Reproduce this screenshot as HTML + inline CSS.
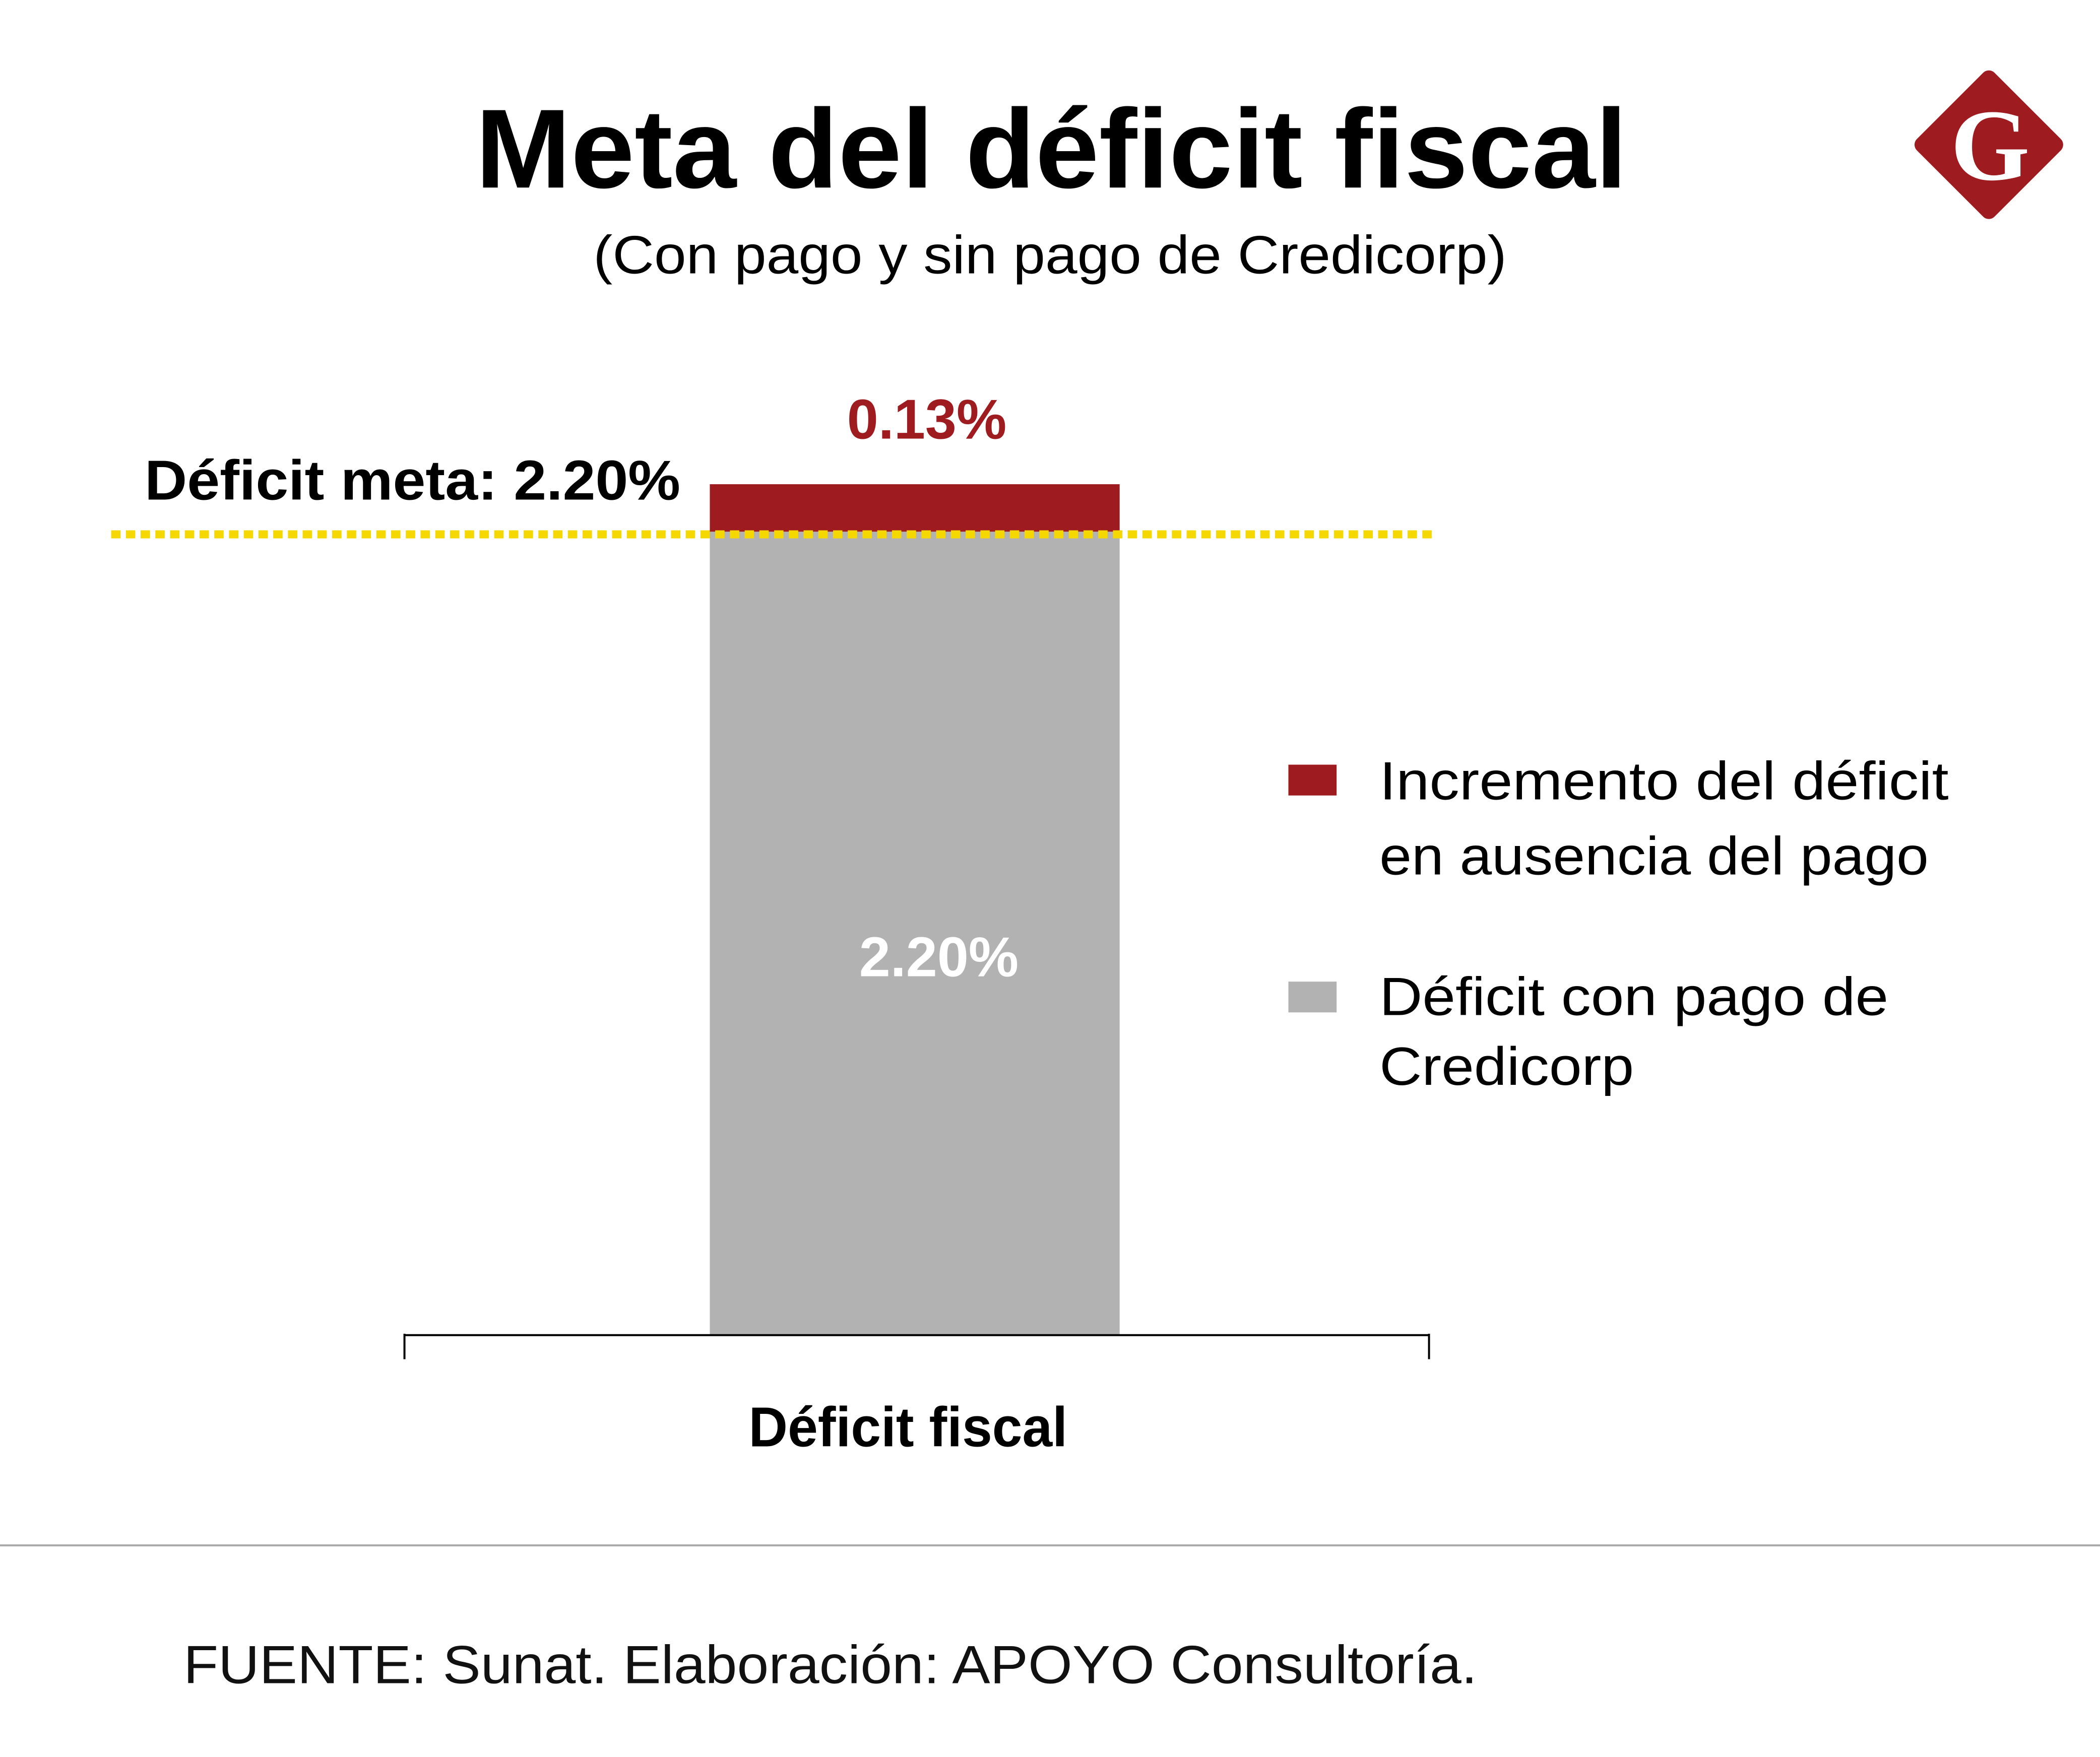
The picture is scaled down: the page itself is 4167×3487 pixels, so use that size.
<!DOCTYPE html>
<html><head><meta charset="utf-8">
<style>
html,body{margin:0;padding:0;background:#fff;}
svg{display:block;}
text{font-family:"Liberation Sans",sans-serif;}
</style></head>
<body>
<svg id="chart" width="4167" height="3487" viewBox="0 0 1568 1312" xmlns="http://www.w3.org/2000/svg">
  <rect width="1568" height="1312" fill="#fff"/>
  <text x="785" y="140" text-anchor="middle" font-size="84" font-weight="bold" textLength="860" lengthAdjust="spacingAndGlyphs" fill="#000">Meta del déficit fiscal</text>
  <text x="784" y="204" text-anchor="middle" font-size="40" textLength="682" lengthAdjust="spacingAndGlyphs" fill="#000">(Con pago y sin pago de Credicorp)</text>
  <g>
    <rect x="1444" y="67" width="82" height="82" rx="6" transform="rotate(45 1485 108)" fill="#9e1b20"/>
    <text x="1486" y="134" text-anchor="middle" style="font-family:'Liberation Serif',serif;font-weight:bold" font-size="76" fill="#fff">G</text>
  </g>
  <g id="plot"></g>
  <line x1="302" y1="997" x2="1067" y2="997" stroke="#000" stroke-width="1.5"/>
  <line x1="302" y1="996" x2="302" y2="1015" stroke="#000" stroke-width="1.5"/>
  <line x1="1067" y1="996" x2="1067" y2="1015" stroke="#000" stroke-width="1.5"/>
  <g>
    <rect x="962" y="571" width="36" height="23" fill="#9e1b20"/>
    <text x="1030" y="597" font-size="40" textLength="425" lengthAdjust="spacingAndGlyphs">Incremento del déficit</text>
    <text x="1030" y="653" font-size="40" textLength="410" lengthAdjust="spacingAndGlyphs">en ausencia del pago</text>
    <rect x="962" y="733" width="36" height="23" fill="#b3b2b3"/>
    <text x="1030" y="758" font-size="40" textLength="380" lengthAdjust="spacingAndGlyphs">Déficit  con pago de</text>
    <text x="1030" y="810" font-size="40" textLength="190" lengthAdjust="spacingAndGlyphs">Credicorp</text>
  </g>
  <line x1="0" y1="1154" x2="1568" y2="1154" stroke="#aaa" stroke-width="1.5"/>
  <text x="137" y="1257" font-size="40" textLength="966" lengthAdjust="spacingAndGlyphs" fill="#111">FUENTE: Sunat. Elaboración: APOYO Consultoría.</text>
</svg>
<script>
const categories = ["Déficit fiscal"];
const baseValues = [2.20];
const incrementValues = [0.13];
const targetValues = [2.20];
const baseLabels = ["2.20%"];
const incrementLabels = ["0.13%"];
const targetLabels = ["Déficit meta: 2.20%"];

const NS = "http://www.w3.org/2000/svg";
const plot = document.getElementById("plot");
const y0 = 997, pxPerUnit = 600 / 2.20;
function yScale(v){ return y0 - v * pxPerUnit; }
function xCenter(i){ return 683 + i * 300; }
const barW = 306;
function mk(tag, attrs){ const e = document.createElementNS(NS, tag); for (const k in attrs) e.setAttribute(k, attrs[k]); plot.appendChild(e); return e; }

categories.forEach((c, i) => {
  const cx = xCenter(i);
  const base = mk("rect", {x: cx - barW/2, y: yScale(baseValues[i]), width: barW, height: y0 - yScale(baseValues[i]), fill: "#b3b2b3"});
  
  
  const top = yScale(baseValues[i] + incrementValues[i]);
  const inc = mk("rect", {x: cx - barW/2, y: top, width: barW, height: yScale(baseValues[i]) - top, fill: "#9e1b20"});
  
  
  const bl = mk("text", {x: cx + 18, y: (yScale(baseValues[i]) + y0)/2 + 32, "text-anchor": "middle", "font-size": "42", "font-weight": "bold", fill: "#fff"});
  bl.textContent = baseLabels[i];
  
  
  const il = mk("text", {x: cx + 9, y: top - 34, "text-anchor": "middle", "font-size": "42", "font-weight": "bold", fill: "#9e1b20"});
  il.textContent = incrementLabels[i];
  
  
  const cl = mk("text", {x: cx - 5, y: 1080, "text-anchor": "middle", "font-size": "42", "font-weight": "bold", fill: "#000", textLength: "238", lengthAdjust: "spacingAndGlyphs"});
  cl.textContent = c;
  
  
});

const ty = yScale(targetValues[0]) + 2;
const tl = mk("line", {x1: 83, y1: ty, x2: 1073, y2: ty, stroke: "#f5d800", "stroke-width": "6", "stroke-dasharray": "7 4"});


const tt = mk("text", {x: 108, y: ty - 26, "font-size": "42", "font-weight": "bold", fill: "#000", textLength: "400", lengthAdjust: "spacingAndGlyphs"});
tt.textContent = targetLabels[0];


</script>
</body></html>
